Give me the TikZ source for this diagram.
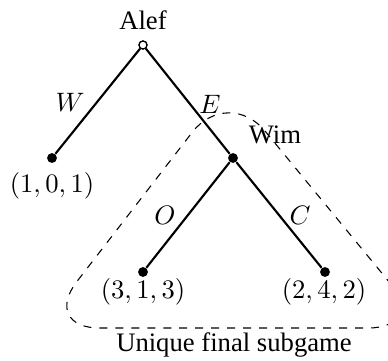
\documentclass[tikz,border=0pt]{standalone}
\usepackage[no-math]{fontspec}
\setmainfont{Liberation Serif}
\begin{document}
\begin{tikzpicture}[x=0.375pt,y=-0.375pt,
  edge/.style={line width=0.8pt},
  leafdot/.style={circle,fill=black,inner sep=0pt,minimum size=3.7pt},
  rootdot/.style={circle,draw,fill=white,inner sep=0pt,minimum size=3pt,line width=0.45pt},
  lbl/.style={inner sep=0pt},
  subg/.style={dashed,line width=0.4pt,rounded corners=22pt}]
\useasboundingbox (0,0) rectangle (388,361);
\clip (0,0) rectangle (388,361);
% dashed subgame region
\coordinate (apex) at (228,86);
\coordinate (bl) at (41,328);
\coordinate (br) at (427,328);
\coordinate (bm) at (230,328);
\draw[subg] (bm) -- (bl) -- (apex) -- (br) -- cycle;
% nodes
\node[rootdot] (root) at (143,45) {};
\node[leafdot] (wim) at (233,158) {};
\node[leafdot] (l1) at (52,158) {};
\node[leafdot] (l2) at (143,272) {};
\node[leafdot] (l3) at (325,272) {};
% edges
\draw[edge] (root) -- (l1);
\draw[edge] (root) -- (wim);
\draw[edge] (wim) -- (l2);
\draw[edge] (wim) -- (l3);
\node[rootdot] at (root) {};
% labels
\node[lbl] (alef) at (143,20) {Alef};
\node[lbl] (wimname) at (275,135) {Wim};
\node[lbl] (lw) at (70,102) {$W$};
\node[lbl] (le) at (210,104) {$E$};
\node[lbl] (lo) at (165,215) {$O$};
\node[lbl] (lc) at (300,215) {$C$};
\node[lbl] (p1) at (52,186) {$(1,0,1)$};
\node[lbl] (p2) at (143,292) {$(3,1,3)$};
\node[lbl] (p3) at (324,292) {$(2,4,2)$};
\node[lbl] (cap) at (234,345) {Unique final subgame};
\end{tikzpicture}
\end{document}
